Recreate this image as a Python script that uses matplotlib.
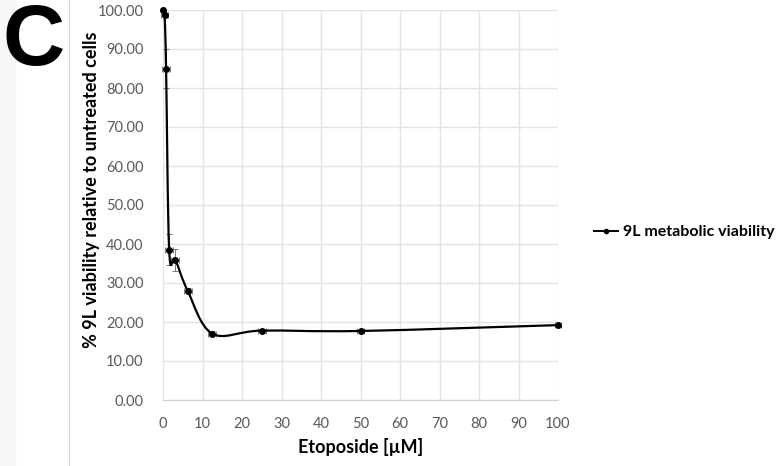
import numpy as np
import matplotlib
matplotlib.use("Agg")
import matplotlib.pyplot as plt
from matplotlib.path import Path
from matplotlib.patches import PathPatch, Rectangle
from matplotlib.lines import Line2D

# data
conc = [0, 0.39, 0.78, 1.56, 3.125, 6.25, 12.5, 25, 50, 100]
viability = [100.0, 98.8, 85.0, 38.5, 36.0, 28.0, 17.0, 17.8, 17.7, 19.2]
y_err = [0.3, 0.5, 5.0, 4.0, 2.8, 0.6, 0.7, 0.5, 0.5, 0.4]
x_err = [0.0, 0.9, 1.0, 1.0, 1.0, 1.0, 1.0, 1.0, 1.0, 0.8]
x_ticks = list(range(0, 101, 10))
y_ticks = list(range(0, 101, 10))

plt.rcParams["font.family"] = ["Lato", "DejaVu Sans"]

fig = plt.figure(figsize=(7.83, 4.66), dpi=100)
ax = fig.add_axes([163 / 783, 66 / 466, 395 / 783, 390 / 466])

# excel-style smoothed line (bezier through the points)
pts = np.column_stack([conc, viability])
verts = [pts[0]]
codes = [Path.MOVETO]
n = len(pts)
for i in range(n - 1):
    p0 = pts[i - 1] if i > 0 else pts[i]
    p1 = pts[i]
    p2 = pts[i + 1]
    p3 = pts[i + 2] if i + 2 < n else pts[i + 1]
    c1 = p1 + (p2 - p0) / 6
    c2 = p2 - (p3 - p1) / 6
    verts += [c1, c2, p2]
    codes += [Path.CURVE4] * 3
ax.add_patch(PathPatch(Path(verts, codes), fill=False, lw=1.6, color="black",
                       zorder=3, clip_on=False))

eb = ax.errorbar(conc, viability, yerr=y_err, xerr=x_err, fmt="none",
                 ecolor="#666666", elinewidth=0.6, capsize=2, capthick=0.6, zorder=2)
for art in eb.lines[1] + eb.lines[2]:
    art.set_clip_on(False)
ax.plot(conc, viability, "o", color="black", ms=4, zorder=4, clip_on=False)

ax.set_xlim(0, 100)
ax.set_ylim(0, 100)
ax.set_xticks(x_ticks)
ax.set_yticks(y_ticks)
ax.set_yticklabels([f"{v:.2f}" for v in y_ticks])
ax.grid(True, color="#e3e3e3", lw=1)
ax.set_axisbelow(True)
for s in ["top", "right", "left"]:
    ax.spines[s].set_visible(False)
ax.spines["bottom"].set_color("#d0d0d0")
ax.tick_params(length=0, labelsize=10.5, colors="#595959")
ax.tick_params(axis="y", pad=14)
ax.tick_params(axis="x", pad=12)

ax.set_xlabel("Etoposide [µM]", fontsize=13, fontweight="bold", labelpad=5)
ax.set_ylabel("% 9L viability relative to untreated cells", fontsize=13,
              fontweight="bold")
ax.yaxis.set_label_coords(-63 / 395, 0.54)

handle = Line2D([], [], color="black", marker="o", ms=3, lw=1.4)
fig.legend([handle], ["9L metabolic viability"], loc="center left",
           bbox_to_anchor=(580 / 783, 1 - 232 / 466), frameon=False,
           prop={"size": 11.5, "weight": "bold"}, handlelength=1.5,
           handletextpad=0.3)

fig.text(2 / 783, 1 - 65 / 466, "C", fontsize=62, fontweight="bold",
         va="baseline", ha="left", family="Liberation Sans")
fig.add_artist(Line2D([69 / 783, 69 / 783], [0, 1], color="#d8d8d8", lw=0.8))
fig.add_artist(Rectangle((0, 0), 15 / 783, 1, color="#f7f7f7", zorder=-1))

fig.savefig("out.png", dpi=100)
